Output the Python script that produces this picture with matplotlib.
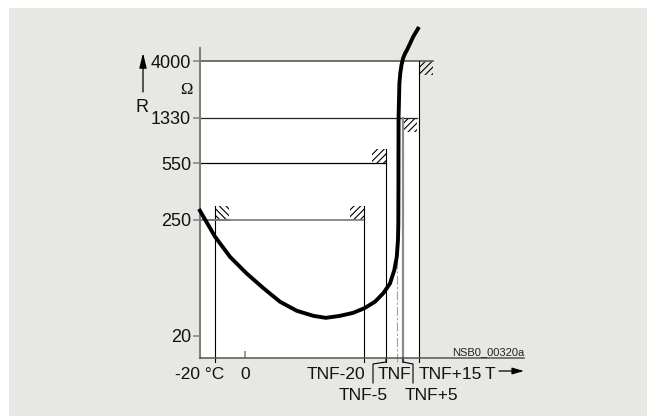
import numpy as np
import matplotlib
matplotlib.use('Agg')
import matplotlib.pyplot as plt
from matplotlib.patches import Rectangle
from matplotlib.lines import Line2D
from matplotlib.transforms import IdentityTransform

# ---------------- data (schematic PTC characteristic) ----------------
TNF = 100  # nominal switching temperature (schematic value)
R_levels = [20, 250, 550, 1330, 4000]
R_labels = ['20', '250', '550', '1330', '4000']
T_marks = [-20, 0, TNF - 20, TNF - 5, TNF, TNF + 5, TNF + 15]
T_labels = ['-20 °C', '0', 'TNF-20', 'TNF-5', 'TNF', 'TNF+5', 'TNF+15']

curve_T = [-30.7, -20, -10, 1.1, 12.3, 23.5, 34.8, 45.9, 54.3, 63.9, 72.8,
           80.2, 87.5, 93.2, 96.8, 98.8, 99.9, 100.8, 101.1, 101.2, 101.25,
           101.3, 102.0, 102.75, 103.75, 105.0, 106.25, 107.5, 109.4, 111.4,
           115]
curve_R = [308, 217, 177, 144, 115, 88, 70, 60, 56, 60, 66,
           75, 88, 105, 124, 151, 177, 210, 243, 408, 775,
           1330, 2955, 3438, 3813, 4441, 5324, 5941, 7089, 8289,
           10000]

# tolerance windows (corner T, corner R)
win_T = [-20, TNF - 20, TNF - 5, TNF + 5, TNF + 15]
win_R = [250, 250, 550, 1330, 4000]

# ---------------- layout / style ----------------
W, H = 647, 416
BG = '#e7e8e4'
win_side_x = [1, -1, -1, 1, 1]      # hatch right (+1) / left (-1) of vertical
win_side_y = [1, 1, 1, -1, -1]      # hatch above (+1) / below (-1) of horizontal
win_hatch = ['\\\\\\\\\\', '/////', '/////', '/////', '/////']
v_col = ['black', 'black', 'black', '#8a8a8a', 'black']
v_lw = [0.8, 0.8, 0.8, 1.6, 0.8]
h_col = ['#7a7a7a', '#7a7a7a', 'black', '#222222', '#666666']
h_lw = [1.2, 1.2, 0.9, 0.9, 1.3]
HS = 14  # hatch box size in px

# piecewise scale anchors (schematic, non-linear axes)
X_ANCH_T = [-60, -30, -20, 0, 80, 95, 100, 105, 115, 145]
X_ANCH_PX = [155, 200, 215, 245, 364, 386, 397, 403, 419, 524]
Y_ANCH_R = [0, 20, 250, 550, 1330, 4000, 10000]
Y_ANCH_POS = [0, 22, 138, 195, 240, 297, 331]


def fx(t):
    return np.interp(t, X_ANCH_T, X_ANCH_PX)


def ix(p):
    return np.interp(p, X_ANCH_PX, X_ANCH_T)


def fy(r):
    return np.interp(r, Y_ANCH_R, Y_ANCH_POS)


def iy(p):
    return np.interp(p, Y_ANCH_POS, Y_ANCH_R)


plt.rcParams['font.family'] = ['Liberation Sans', 'DejaVu Sans']
plt.rcParams['hatch.linewidth'] = 0.8

fig = plt.figure(figsize=(W / 100, H / 100), dpi=100)
fig.patches.append(Rectangle((9 / W, 0), 1 - 9 / W, (H - 8) / H,
                             transform=fig.transFigure, facecolor=BG,
                             edgecolor='none', zorder=-10))

ax = fig.add_axes([200 / W, (H - 358) / H, 324 / W, 310 / H])
ax.set_facecolor('none')
ax.set_xscale('function', functions=(fx, ix))
ax.set_yscale('function', functions=(fy, iy))
ax.set_xlim(-30, 145)
ax.set_ylim(0, float(iy(310)))

for s in ['top', 'right']:
    ax.spines[s].set_visible(False)
ax.spines['left'].set_color('#808080')
ax.spines['left'].set_linewidth(1.5)
ax.spines['bottom'].set_color('#555555')
ax.spines['bottom'].set_linewidth(1.1)

ax.set_yticks(R_levels, R_labels)
ax.tick_params(axis='y', length=5, width=1.1, color='#808080',
               labelsize=13, pad=1.5, labelcolor='#111111')
ax.set_xticks([0], [''])
ax.tick_params(axis='x', direction='in', length=5, width=1.1,
               color='#808080')

ID = IdentityTransform()


def disp(T, R):
    return ax.transData.transform((T, R))


x0, y0 = disp(-30, 0)  # axes origin in display px

# white field (up to 4000 / TNF+15)
ax.add_patch(Rectangle((-30, 0), TNF + 15 + 30, 4000, facecolor='white',
                       edgecolor='none', zorder=0))

# tolerance windows
for i in range(len(win_T)):
    bx, by = disp(win_T[i], win_R[i])
    hx = bx if win_side_x[i] > 0 else bx - HS
    hy = by if win_side_y[i] > 0 else by - HS
    ax.add_patch(Rectangle((hx, hy), HS, HS, transform=ID, fill=False,
                           hatch=win_hatch[i], edgecolor='black',
                           linewidth=0, clip_on=False, zorder=1.2))
    xe = bx + HS if win_side_x[i] > 0 else bx
    ax.add_line(Line2D([x0, xe], [by, by], transform=ID, color=h_col[i],
                       lw=h_lw[i], clip_on=False, zorder=1.5))
    ye = by + HS if win_side_y[i] > 0 else by
    ax.add_line(Line2D([bx, bx], [y0 - 4, ye], transform=ID, color=v_col[i],
                       lw=v_lw[i], clip_on=False, zorder=1.5))

# TNF dash-dot line
tx, ty = disp(TNF, 1330)
ax.add_line(Line2D([tx, tx], [y0 - 4, ty], transform=ID, color='#a0a0a0',
                   lw=0.8, linestyle=(0, (8, 2, 2, 2)), clip_on=False,
                   zorder=1.4))

# leader lines to TNF-5 / TNF+5
for T, d in [(TNF - 5, -13), (TNF + 5, 10)]:
    bx, _ = disp(T, 0)
    ax.add_line(Line2D([bx, bx, bx + d, bx + d],
                       [y0, y0 - 4, y0 - 6, y0 - 25], transform=ID,
                       color='black', lw=0.8, clip_on=False, zorder=1.5))

# characteristic curve
ax.plot(curve_T, curve_R, color='black', lw=2.8, clip_on=False, zorder=3,
        solid_joinstyle='round', solid_capstyle='butt')

# x labels
lab_spec = {
    '-20 °C': ('center', -15, -21),
    '0': ('center', 0, -21),
    'TNF-20': ('right', 1, -21),
    'TNF-5': ('right', 2, -42),
    'TNF': ('center', -3, -21),
    'TNF+5': ('left', 2, -42),
    'TNF+15': ('left', 0, -21),
}
for T, lab in zip(T_marks, T_labels):
    ha, dx, dy = lab_spec[lab]
    bx, _ = disp(T, 0)
    ax.text(bx + dx, y0 + dy, lab, transform=ID, ha=ha, va='baseline',
            fontsize=12.5, color='#111111', clip_on=False)

x1, _ = disp(145, 0)
ax.text(x1 - 34, y0 - 21, 'T', transform=ID, ha='center', va='baseline',
        fontsize=12.5, color='#111111')
ax.annotate('', xy=(x1, y0 - 13), xycoords=ID, xytext=(x1 - 25, y0 - 13),
            textcoords=ID,
            arrowprops=dict(arrowstyle='-|>,head_length=0.7,head_width=0.2',
                            color='black', lw=0.9, shrinkA=0, shrinkB=0))
ax.text(x1, y0 + 3, 'NSB0_00320a', transform=ID, ha='right', va='baseline',
        fontsize=8, color='#222222')

# y axis label, unit and arrow
_, y4000 = disp(-30, 4000)
ax.text(x0 - 58, y4000 - 46, 'R', transform=ID, ha='center', va='center',
        fontsize=13, color='#111111')
ax.text(x0 - 14, y4000 - 29, 'Ω', transform=ID, ha='center', va='center',
        fontsize=12, color='#111111', family=['Liberation Serif', 'DejaVu Serif'])
ax.annotate('', xy=(x0 - 57, y4000 + 8), xycoords=ID,
            xytext=(x0 - 57, y4000 - 31), textcoords=ID,
            arrowprops=dict(arrowstyle='-|>,head_length=0.9,head_width=0.22',
                            color='black', lw=0.9, shrinkA=0, shrinkB=0))

fig.savefig('out.png', dpi=100, facecolor='white')
